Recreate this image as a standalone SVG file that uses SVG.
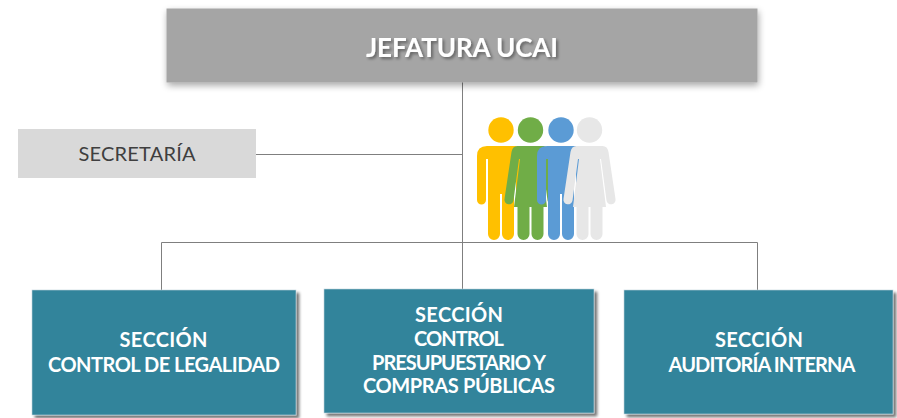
<svg xmlns="http://www.w3.org/2000/svg" xmlns:xlink="http://www.w3.org/1999/xlink" width="897" height="418" viewBox="0 0 897 418">
<style>
text{font-family:"Lato","Open Sans","Liberation Sans",sans-serif;text-anchor:middle}
.sec{fill:#31849b;stroke:#c3d3dc;stroke-width:.6;filter:url(#sh2)}
.st{fill:#fff;font-weight:700;font-size:20px}
.c{stroke:#7f7f7f;stroke-width:1;fill:none}
</style>
<defs>
<filter id="sh1" x="-5%" y="-20%" width="110%" height="150%"><feGaussianBlur in="SourceAlpha" stdDeviation="3.500"/><feOffset dx="1" dy="3"/><feComponentTransfer><feFuncA type="linear" slope=".35"/></feComponentTransfer><feMerge><feMergeNode/><feMergeNode in="SourceGraphic"/></feMerge></filter>
<filter id="sh2" x="-5%" y="-10%" width="110%" height="120%"><feGaussianBlur in="SourceAlpha" stdDeviation="1.600"/><feOffset dx="3" dy="3"/><feComponentTransfer><feFuncA type="linear" slope=".55"/></feComponentTransfer><feMerge><feMergeNode/><feMergeNode in="SourceGraphic"/></feMerge></filter>
<filter id="ts" x="-10%" y="-40%" width="120%" height="190%"><feGaussianBlur in="SourceAlpha" stdDeviation="1.500"/><feOffset dx="2" dy="2"/><feComponentTransfer><feFuncA type="linear" slope=".4"/></feComponentTransfer><feMerge><feMergeNode/><feMergeNode in="SourceGraphic"/></feMerge></filter>
<g id="man"><circle cx="0" cy="130" r="12.700"/><path d="M-14 146H14Q24 146 24 156V200a4.500 4.500 0 0 1-9 0V159H13V234a6 6 0 0 1-12 0V194H-1V234a6 6 0 0 1-12 0V159H-15V200a4.500 4.500 0 0 1-9 0V156Q-24 146-14 146Z"/></g>
<g id="woman"><circle cx="0" cy="130" r="12.700"/><path d="M-13 146H13Q18 146 19 152L26 199a4.500 4.500 0 0 1-9 1.500L11.500 159H10.500L16.500 207H13V234a6 6 0 0 1-12 0V207H-1V234a6 6 0 0 1-12 0V207H-16.500L-10.500 159H-11.500L-17 200.500a4.500 4.500 0 0 1-9-1.500L-19 152Q-18 146-13 146Z"/></g>
</defs>
<g id="connectors">
<path class="c" d="M462.500 82V290M256 154.500H462.500M161.500 290V242.500H757.500V290"/>
</g>
<g id="jefatura">
<rect x="166.500" y="8.500" width="591" height="74" fill="#a5a5a5" filter="url(#sh1)"/>
<text x="462" y="57" font-size="26" font-weight="700" fill="#fff" textLength="192" filter="url(#ts)">JEFATURA UCAI</text>
</g>
<g id="secretaria">
<rect x="18" y="129" width="238" height="49" fill="#d9d9d9"/>
<text x="137" y="161" font-size="20" fill="#3f3f3f" textLength="117">SECRETARÍA</text>
</g>
<g id="personas">
<use xlink:href="#man" x="501" fill="#ffc000"/>
<use xlink:href="#woman" x="530.500" fill="#70ad47"/>
<use xlink:href="#man" x="561" fill="#5b9bd5"/>
<use xlink:href="#woman" x="589.500" fill="#e7e7e7"/>
</g>
<g id="seccion-legalidad">
<rect class="sec" x="32" y="290" width="264" height="125"/>
<text class="st" x="163.500" y="347" textLength="88">SECCIÓN</text>
<text class="st" x="164" y="372" textLength="232">CONTROL DE LEGALIDAD</text>
</g>
<g id="seccion-presupuestario">
<rect class="sec" x="324" y="289" width="270" height="124"/>
<text class="st" x="459" y="322" textLength="88">SECCIÓN</text>
<text class="st" x="459" y="346" textLength="90">CONTROL</text>
<text class="st" x="459" y="370" textLength="174">PRESUPUESTARIO Y</text>
<text class="st" x="459" y="393" textLength="192">COMPRAS PÚBLICAS</text>
</g>
<g id="seccion-auditoria">
<rect class="sec" x="624" y="290" width="269" height="124"/>
<text class="st" x="759" y="347" textLength="88">SECCIÓN</text>
<text class="st" x="762" y="372" textLength="187">AUDITORÍA INTERNA</text>
</g>
</svg>
